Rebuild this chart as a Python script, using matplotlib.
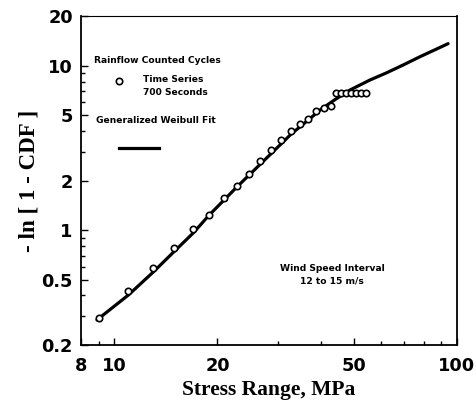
import matplotlib
matplotlib.use("Agg")
import matplotlib.pyplot as plt
from matplotlib.ticker import FixedLocator, NullFormatter

# --- data ---
stress = [9.0, 11.0, 13.0, 14.9, 17.0, 18.9, 20.9, 22.8, 24.7, 26.7, 28.6, 30.6,
          32.8, 34.8, 36.7, 38.7, 40.9, 43.0,
          44.3, 45.8, 47.4, 49.0, 50.6, 52.4, 54.2]
neg_ln = [0.29, 0.426, 0.588, 0.778, 1.01, 1.23, 1.57, 1.85, 2.2, 2.63, 3.06, 3.53,
          4.02, 4.41, 4.71, 5.29, 5.50, 5.70,
          6.8, 6.8, 6.8, 6.8, 6.8, 6.8, 6.8]

# generalized weibull fit
fit_x = [8.9, 11.0, 13.0, 14.9, 17.0, 18.9, 22.8, 26.7, 32.8, 36.5, 40.0, 44.0,
         48.7, 55.7, 62.3, 69.6, 77.8, 87.1, 94.2]
fit_y = [0.284, 0.403, 0.556, 0.735, 0.96, 1.23, 1.83, 2.52, 3.83, 4.6, 5.4, 6.2,
         7.1, 8.17, 9.04, 10.08, 11.3, 12.6, 13.6]

xticks = [8, 10, 20, 50, 100]
yticks = [0.2, 0.5, 1, 2, 5, 10, 20]
xminor = [9, 30, 40, 60, 70, 80, 90]
yminor = [0.3, 0.4, 0.6, 0.7, 0.8, 0.9, 3, 4, 6, 7, 8, 9]

# --- figure ---
fig = plt.figure(figsize=(4.77, 4.03), dpi=100)
ax = fig.add_axes([0.170, 0.144, 0.788, 0.816])

ax.plot(fit_x, fit_y, color="black", lw=2.3, solid_capstyle="round",
        solid_joinstyle="round")
ax.plot(stress, neg_ln, "o", mfc="white", mec="black", ms=4.6, mew=1.2)

ax.set_xscale("log")
ax.set_yscale("log")
ax.set_xlim(8, 100)
ax.set_ylim(0.2, 20)

ax.xaxis.set_major_locator(FixedLocator(xticks))
ax.yaxis.set_major_locator(FixedLocator(yticks))
ax.xaxis.set_minor_locator(FixedLocator(xminor))
ax.yaxis.set_minor_locator(FixedLocator(yminor))
ax.set_xticklabels([str(t) for t in xticks])
ax.set_yticklabels([("%g" % t) for t in yticks])
ax.xaxis.set_minor_formatter(NullFormatter())
ax.yaxis.set_minor_formatter(NullFormatter())

ax.tick_params(which="both", direction="in", top=False, right=False, width=1.0)
ax.tick_params(which="major", length=5, labelsize=12.8)
ax.tick_params(which="minor", length=3)
ax.tick_params(axis="x", which="major", pad=8.5)
ax.tick_params(axis="y", which="major", pad=6)
for lab in ax.get_xticklabels() + ax.get_yticklabels():
    lab.set_fontweight("bold")
    lab.set_family("DejaVu Sans")

for s in ax.spines.values():
    s.set_linewidth(1.3)
ax.spines["top"].set_linewidth(0.8)

serif = {"family": "Liberation Serif", "weight": "bold", "size": 15.5}
ax.set_xlabel("Stress Range, MPa", fontdict=serif, labelpad=4)
ax.set_ylabel("- ln [ 1 - CDF ]", fontdict=dict(serif, size=16.5), labelpad=1)

# --- legend block drawn inside the axes ---
small = {"family": "DejaVu Sans", "weight": "bold", "size": 6.6}
ax.text(0.035, 0.866, "Rainflow Counted Cycles", transform=ax.transAxes, va="center", **small)
ax.plot([0.102], [0.803], "o", mfc="white", mec="black", ms=4.6, mew=1.2, transform=ax.transAxes)
ax.text(0.166, 0.808, "Time Series", transform=ax.transAxes, va="center", **small)
ax.text(0.166, 0.768, "700 Seconds", transform=ax.transAxes, va="center", **small)
ax.text(0.040, 0.684, "Generalized Weibull Fit", transform=ax.transAxes, va="center", **small)
ax.plot([0.102, 0.207], [0.600, 0.600], color="black", lw=2.3, transform=ax.transAxes)

ax.text(0.668, 0.234, "Wind Speed Interval", transform=ax.transAxes, ha="center", va="center", **small)
ax.text(0.668, 0.195, "12 to 15 m/s", transform=ax.transAxes, ha="center", va="center", **small)

fig.savefig("out.png", dpi=100)
